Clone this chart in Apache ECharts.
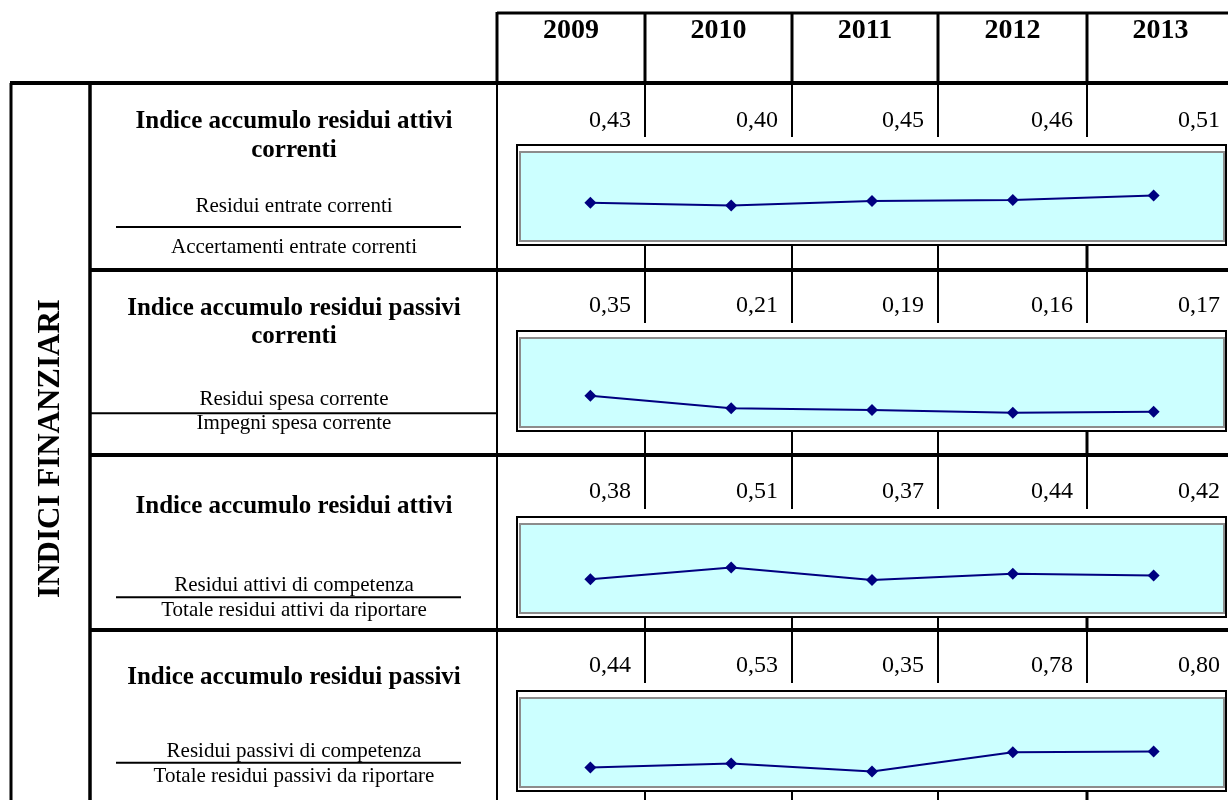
<!DOCTYPE html>
<html>
<head>
<meta charset="utf-8">
<script src="https://cdn.jsdelivr.net/npm/echarts@6/dist/echarts.min.js"></script>
<style>
  html, body { margin: 0; padding: 0; background: #fff; }
  #main { width: 1228px; height: 800px; }
</style>
</head>
<body>
<div id="main"></div>
<script>
// dati
const years = ['2009', '2010', '2011', '2012', '2013']
const attiviCorrenti = [0.43, 0.40, 0.45, 0.46, 0.51]
const passiviCorrenti = [0.35, 0.21, 0.19, 0.16, 0.17]
const attivi = [0.38, 0.51, 0.37, 0.44, 0.42]
const passivi = [0.44, 0.53, 0.35, 0.78, 0.80]
const seriesData = [attiviCorrenti, passiviCorrenti, attivi, passivi]
const axisMax = [1, 1, 1, 2]

const titles = [
  ['Indice accumulo residui attivi', 'correnti'],
  ['Indice accumulo residui passivi', 'correnti'],
  ['Indice accumulo residui attivi'],
  ['Indice accumulo residui passivi']
]
const numerators = ['Residui entrate correnti', 'Residui spesa corrente', 'Residui attivi di competenza', 'Residui passivi di competenza']
const denominators = ['Accertamenti entrate correnti', 'Impegni spesa corrente', 'Totale residui attivi da riportare', 'Totale residui passivi da riportare']
const sideTitle = 'INDICI FINANZIARI'

// layout
const FONT = '"Liberation Serif", "Times New Roman", serif'
const colX = [497, 645, 792, 938, 1087, 1234]
const rowTop = [83, 270, 455, 630, 800]
const boxTop = [145, 331, 517, 691]
const titleY = [[122, 151], [309, 336.6], [506.6], [677.6]]
const numY = [206.5, 399.6, 585.6, 751.2]
const denY = [247, 423, 610.6, 776.2]
const fracY = [227, 413.3, 597.3, 762.7]
const valueY = [121.2, 306, 492, 666.2]
const labelCx = 294

let graphics = []
function line(x1, y1, x2, y2, w, color) {
  graphics.push({
    type: 'line', silent: true, z: 10,
    shape: { x1: x1, y1: y1, x2: x2, y2: y2 },
    style: { stroke: color || '#000', lineWidth: w }
  })
}
function text(str, x, y, font, align, rot) {
  graphics.push({
    type: 'text', silent: true, z: 10,
    x: x, y: y, rotation: rot || 0,
    style: { text: str, font: font, fill: '#000', textAlign: align || 'center', textVerticalAlign: 'middle' }
  })
}

// intestazione
line(colX[0], 13, 1228, 13, 3)
for (let i = 0; i < 5; i++) {
  line(colX[i], 12, colX[i], 83, 3)
  text(years[i], (colX[i] + colX[i + 1]) / 2, 31, 'bold 28px ' + FONT)
}
line(10, 83, 1228, 83, 4)
line(11, 83, 11, 800, 3)
line(90, 83, 90, 800, 3.5)
line(colX[0], 83, colX[0], 800, 2)
text(sideTitle, 51, 448.5, 'bold 31px ' + FONT, 'center', Math.PI / 2)

let grids = [], xAxes = [], yAxes = [], series = []
for (let r = 0; r < 4; r++) {
  if (r > 0) line(90, rowTop[r], 1228, rowTop[r], 4)
  // etichette
  titles[r].forEach((t, k) => text(t, labelCx, titleY[r][k], 'bold 25px ' + FONT))
  text(numerators[r], labelCx, numY[r], '21px ' + FONT)
  text(denominators[r], labelCx, denY[r], '21px ' + FONT)
  if (r === 1) line(90, fracY[r], colX[0], fracY[r], 2)
  else line(116, fracY[r], 461, fracY[r], 2)
  // valori e separatori
  for (let c = 0; c < 5; c++) {
    const v = seriesData[r][c].toFixed(2).replace('.', ',')
    text(v, colX[c + 1] - 14, valueY[r], '24px ' + FONT, 'right')
    if (c > 0) {
      line(colX[c], rowTop[r], colX[c], boxTop[r] - 8, 2)
      line(colX[c], boxTop[r] + 100, colX[c], rowTop[r + 1], c === 4 ? 3 : 2)
    }
  }
  // cornice grafico
  graphics.push({
    type: 'rect', silent: true, z: 1,
    shape: { x: 517, y: boxTop[r], width: 709, height: 100 },
    style: { fill: null, stroke: '#000', lineWidth: 2 }
  })
  grids.push({
    left: 520, width: 704, top: boxTop[r] + 7, height: 89,
    show: true, backgroundColor: '#CCFFFF', borderColor: '#8C8C8C', borderWidth: 2
  })
  xAxes.push({ type: 'category', gridIndex: r, data: years, show: false, boundaryGap: true })
  yAxes.push({ type: 'value', gridIndex: r, min: 0, max: axisMax[r], show: false })
  series.push({
    type: 'line', xAxisIndex: r, yAxisIndex: r, data: seriesData[r],
    symbol: 'diamond', symbolSize: 12, z: 20,
    lineStyle: { color: '#000080', width: 2 },
    itemStyle: { color: '#000080' },
    silent: true
  })
}

const myChart = echarts.init(document.getElementById('main'))
myChart.setOption({
  animation: false,
  grid: grids,
  xAxis: xAxes,
  yAxis: yAxes,
  series: series,
  graphic: { elements: graphics }
})
</script>
</body>
</html>
